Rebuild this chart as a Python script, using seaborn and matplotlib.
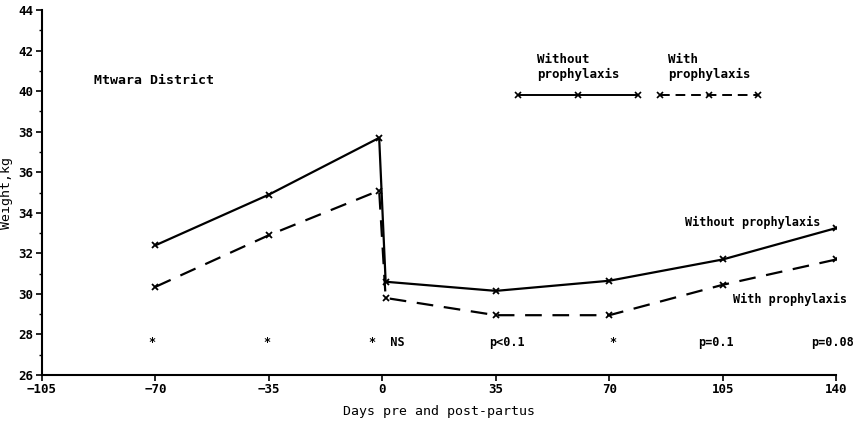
import matplotlib
matplotlib.use("Agg")
import matplotlib.pyplot as plt
import seaborn as sns
import pandas as pd
from matplotlib.lines import Line2D

# data (weight in kg, days around delivery)
days = [-70, -35, -1, 1, 35, 70, 105, 140]
without_prophylaxis = [32.4, 34.9, 37.7, 30.6, 30.15, 30.65, 31.7, 33.25]
with_prophylaxis = [30.35, 32.9, 35.1, 29.8, 28.95, 28.95, 30.45, 31.7]

# significance notes printed along the bottom
sig_x = [-71.2, -35.6, 1.5, 38.4, 71.0, 103.0, 138.8]
sig_labels = ["*", "*", "*  NS", "p<0.1", "*", "p=0.1", "p=0.08"]
sig_y = 27.6

x_ticks = [-105, -70, -35, 0, 35, 70, 105, 140]
y_ticks = [26, 28, 30, 32, 34, 36, 38, 40, 42, 44]

sns.set_theme(style="ticks")
plt.rcParams["font.family"] = ["DejaVu Sans Mono"]
plt.rcParams["font.weight"] = "bold"
for key in ["text.color", "axes.labelcolor", "xtick.color", "ytick.color"]:
    plt.rcParams[key] = "black"
FS = 9

df_without = pd.DataFrame({"day": days, "weight": without_prophylaxis})
df_with = pd.DataFrame({"day": days, "weight": with_prophylaxis})

fig, ax = plt.subplots(figsize=(8.63, 4.23), dpi=100)
fig.subplots_adjust(left=0.0487, right=0.969, bottom=0.1135, top=0.976)

sns.lineplot(data=df_without, x="day", y="weight", ax=ax, color="black",
             linewidth=1.6, marker="x", markersize=5, markeredgewidth=1.3,
             markeredgecolor="black", sort=False)
sns.lineplot(data=df_with, x="day", y="weight", ax=ax, color="black",
             linewidth=1.6, marker="x", markersize=5, markeredgewidth=1.3,
             markeredgecolor="black", sort=False)
ax.lines[1].set_dashes((7.5, 4.8))

for x, lab in zip(sig_x, sig_labels):
    ax.text(x, sig_y, lab, ha="center", va="center", fontsize=FS - 0.5)

ax.text(-89, 40.55, "Mtwara District", ha="left", va="center", fontsize=FS + 0.5)
ax.text(93.3, 33.55, "Without prophylaxis", ha="left", va="center", fontsize=FS - 0.5)
ax.text(108, 29.75, "With prophylaxis", ha="left", va="center", fontsize=FS - 0.5)

# key: title above each line sample
h1 = Line2D([], [], color="black", lw=1.4, marker="x", markersize=5, mew=1.2)
h2 = Line2D([], [], color="black", lw=1.4, marker="x", markersize=5, mew=1.2,
            dashes=(5, 3))
leg1 = ax.legend([h1], [""], title="Without\nprophylaxis", loc="upper center",
                 bbox_to_anchor=(0.675, 0.9), frameon=False, numpoints=3,
                 handlelength=8.5, handletextpad=0, title_fontsize=FS,
                 borderaxespad=0)
ax.add_artist(leg1)
ax.legend([h2], [""], title="With\nprophylaxis", loc="upper center",
          bbox_to_anchor=(0.84, 0.9), frameon=False, numpoints=3,
          handlelength=7, handletextpad=0, title_fontsize=FS, borderaxespad=0)

ax.set_xlim(-105, 140)
ax.set_ylim(26, 44)
ax.set_xticks(x_ticks)
ax.set_yticks(y_ticks)
ax.set_yticks([27, 29, 31, 33, 35, 37, 39, 41, 43], minor=True)
ax.tick_params(axis="both", direction="out", length=4, width=1.2, labelsize=FS,
               pad=2, color="black")
ax.tick_params(axis="y", which="minor", length=2.5, width=1)
ax.set_xlabel("Days pre and post-partus", fontsize=FS + 0.5, labelpad=6)
ax.set_ylabel("Weight,kg", fontsize=FS + 0.5, labelpad=4)

for side in ["top", "right"]:
    ax.spines[side].set_visible(False)
for side in ["left", "bottom"]:
    ax.spines[side].set_linewidth(1.5)
    ax.spines[side].set_color("black")

fig.savefig("out.png", dpi=100)
